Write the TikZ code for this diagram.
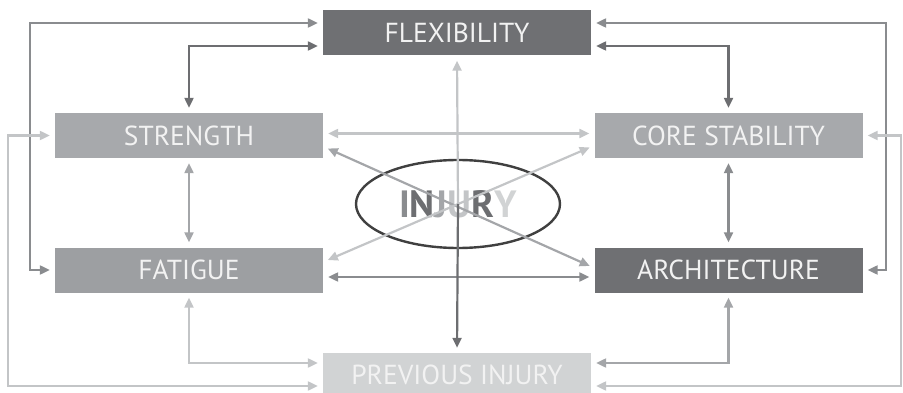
\documentclass[tikz,border=0pt]{standalone}
\usepackage{fontspec}
\setmainfont{PT Sans}
\usepackage{tikz}
\usetikzlibrary{arrows.meta, shapes.geometric}
\definecolor{boxdark}{HTML}{6F7073}
\definecolor{boxmid}{HTML}{A7A9AC}
\definecolor{boxfat}{HTML}{9D9FA2}
\definecolor{boxlight}{HTML}{D1D3D4}
\definecolor{lndark}{HTML}{6D6E71}
\definecolor{lnmid}{HTML}{8A8C8F}
\definecolor{lnsoft}{HTML}{A4A6A9}
\definecolor{lnlight}{HTML}{C3C5C7}

\begin{document}
\begin{tikzpicture}[x=1pt,y=-1pt,
		factor/.style={minimum width=268pt, minimum height=45pt, inner sep=0pt, text=white!95!black, font=\fontsize{27.5}{27.5}\selectfont},
		link/.style={line width=2.2pt, {Triangle[length=10pt,width=9pt]}-{Triangle[length=10pt,width=9pt]}, shorten <=5pt, shorten >=5pt},
		oneway/.style={line width=2.2pt, -{Triangle[length=10pt,width=9pt]}, shorten >=5pt}]
		\useasboundingbox (0,0) rectangle (903,393);
		\node[factor, fill=boxdark] (flex) at (457,33) {FLEXIBILITY};
		\node[factor, fill=boxmid] (str) at (189,135.5) {STRENGTH};
		\node[factor, fill=boxmid] (core) at (728.5,135.5) {CORE STABILITY};
		\node[factor, fill=boxfat] (fat) at (189,270) {FATIGUE};
		\node[factor, fill=boxdark] (arch) at (728.5,270) {ARCHITECTURE};
		\node[factor, fill=boxlight, minimum height=44pt] (prev) at (457,375) {PREVIOUS INJURY};
		\node[draw=black!75, line width=2.4pt, ellipse, minimum width=204pt, minimum height=88pt] (inj) at (458,204) {};
		\node[font=\bfseries\fontsize{38}{38}\selectfont] (injtxt) at (inj.center) {\textcolor{lnmid}{I}\textcolor{lndark}{N}\textcolor{lnsoft}{J}\textcolor{lnlight}{U}\textcolor{lndark}{R}\textcolor{boxlight}{Y}};
		\draw[link, lnmid] ([yshift=10pt]flex.west) -| ([xshift=-25pt]fat.west) -- (fat.west);
		\draw[link, lndark] ([yshift=-13pt]flex.west) -| (str.north);
		\draw[link, lnlight] (str.west) -- ++(-47,0) |- ([yshift=-11pt]prev.west);
		\draw[link, lnsoft] (str.south) -- (fat.north);
		\draw[link, lnlight] (fat.south) |- ([yshift=12pt]prev.west);
		\draw[link, lnmid] ([yshift=10pt]flex.east) -| ([xshift=23pt]arch.east) -- (arch.east);
		\draw[link, lndark] ([yshift=-13pt]flex.east) -| (core.north);
		\draw[link, lnlight] (core.east) -- ++(38,0) |- ([yshift=-11pt]prev.east);
		\draw[link, lnmid] (core.south) -- (arch.north);
		\draw[link, lnsoft] (arch.south) |- ([yshift=12pt]prev.east);
		\draw[link, lnlight] ([yshift=2pt]str.east) -- ([yshift=2pt]core.west);
		\draw[link, lnmid] ([yshift=-7pt]fat.east) -- ([yshift=-7pt]arch.west);
		\draw[link, lnsoft] ([yshift=-11pt]str.east) -- ([yshift=2pt]arch.west);
		\draw[link, lnlight] ([yshift=8pt]fat.east) -- ([yshift=-10pt]core.west);
		\draw[oneway, lnlight] (inj.center) -- (flex.south);
		\draw[oneway, lndark] (inj.center) -- (prev.north);
	\end{tikzpicture}
\end{document}
